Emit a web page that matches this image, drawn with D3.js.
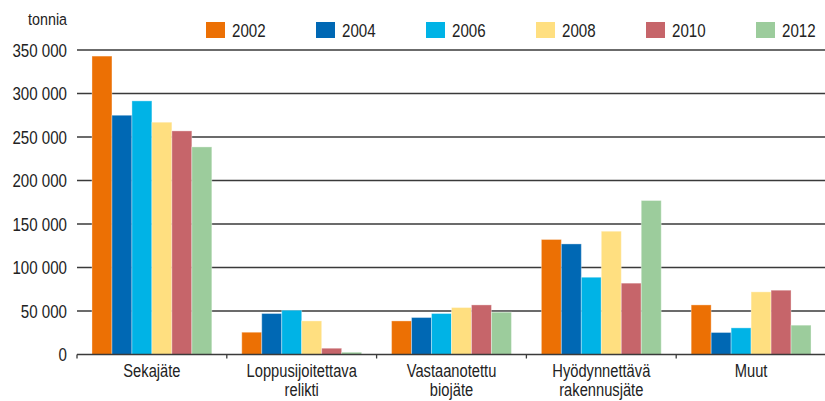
<!DOCTYPE html>
<html lang="fi">
  <head>
    <meta charset="utf-8" />
    <title>Jätteet</title>
    <script src="https://cdn.jsdelivr.net/npm/d3@7"></script>
    <style>
      body { margin: 0; background: #fff; }
      text { font-family: "Liberation Sans", Arial, sans-serif; fill: #222; }
    </style>
  </head>
  <body>
    <div id="chart"></div>
    <script>
      // data
      const categories = [
        ["Sekajäte"],
        ["Loppusijoitettava", "relikti"],
        ["Vastaanotettu", "biojäte"],
        ["Hyödynnettävä", "rakennusjäte"],
        ["Muut"]
      ];
      const years = ["2002", "2004", "2006", "2008", "2010", "2012"];
      const colors = ["#ec7004", "#0068b4", "#00b3e6", "#ffdf80", "#c6656a", "#9ccc9c"];
      const v2002 = [343000, 25600, 38600, 132200, 57000];
      const v2004 = [275000, 47100, 42500, 127100, 25300];
      const v2006 = [291500, 50900, 47100, 88800, 30600];
      const v2008 = [267000, 38600, 54000, 141700, 72000];
      const v2010 = [257000, 7200, 57000, 82000, 73900];
      const v2012 = [238600, 2600, 48600, 177000, 33700];
      const yTicks = [0, 50000, 100000, 150000, 200000, 250000, 300000, 350000];
      const unitLabel = "tonnia";

      const series = [v2002, v2004, v2006, v2008, v2010, v2012];
      const W = 825, H = 401;
      const plotL = 77, plotR = 826, plotT = 50, plotB = 354.5;
      const narrow = 0.84; // squeeze text to look like a condensed face

      const svg = d3.select("#chart").append("svg")
        .attr("width", W).attr("height", H);

      const x = d3.scaleBand()
        .domain(categories.map((c, i) => i))
        .range([plotL, plotR])
        .paddingInner(0.2)
        .paddingOuter(0.1);
      const xIn = d3.scaleBand()
        .domain(years)
        .range([0, x.bandwidth()]);
      const y = d3.scaleLinear().domain([0, 350000]).range([plotB, plotT]);

      const fmt = v => d3.format(",")(v).replace(/,/g, " ");
      const at = (px, py) => `translate(${px},${py}) scale(${narrow},1)`;

      // grid
      svg.append("g")
        .selectAll("line")
        .data(yTicks.filter(d => d > 0))
        .join("line")
        .attr("x1", plotL).attr("x2", W)
        .attr("y1", d => y(d)).attr("y2", d => y(d))
        .attr("stroke", "#3a3a3a").attr("stroke-width", 1.3);

      // y labels
      svg.append("g")
        .selectAll("text")
        .data(yTicks)
        .join("text")
        .attr("transform", d => at(67, y(d) + 6.5))
        .attr("text-anchor", "end")
        .style("font-size", "18px")
        .text(fmt);

      svg.append("text")
        .attr("transform", at(67, 25))
        .attr("text-anchor", "end")
        .style("font-size", "17px")
        .text(unitLabel);

      // bars
      const groups = svg.append("g")
        .selectAll("g")
        .data(categories)
        .join("g")
        .attr("transform", (d, i) => `translate(${x(i)},0)`);
      groups.selectAll("rect")
        .data((d, i) => series.map((s, j) => ({ year: years[j], v: s[i], c: colors[j] })))
        .join("rect")
        .attr("x", d => xIn(d.year))
        .attr("width", xIn.bandwidth())
        .attr("y", d => y(d.v))
        .attr("height", d => y(0) - y(d.v))
        .attr("fill", d => d.c)
        .attr("stroke", "#fff").attr("stroke-opacity", 0.35).attr("stroke-width", 1);

      // baseline and ticks
      const step = x.step();
      svg.append("line")
        .attr("x1", plotL).attr("x2", W)
        .attr("y1", plotB).attr("y2", plotB)
        .attr("stroke", "#3a3a3a").attr("stroke-width", 1.3);
      svg.append("g")
        .selectAll("line")
        .data(d3.range(categories.length))
        .join("line")
        .attr("x1", i => plotL + i * step).attr("x2", i => plotL + i * step)
        .attr("y1", plotB).attr("y2", plotB + 4)
        .attr("stroke", "#3a3a3a").attr("stroke-width", 1.3);

      // category labels, one text per line
      const lines = categories.flatMap((c, i) => c.map((s, k) => ({ s, i, k })));
      svg.append("g")
        .selectAll("text")
        .data(lines)
        .join("text")
        .attr("text-anchor", "middle")
        .style("font-size", "17.5px")
        .attr("transform", d => at(x(d.i) + x.bandwidth() / 2, 377 + d.k * 18.5))
        .text(d => d.s);

      // legend
      const lg = svg.append("g")
        .selectAll("g")
        .data(years)
        .join("g")
        .attr("transform", (d, i) => `translate(${206 + i * 110},22)`);
      lg.append("rect")
        .attr("width", 19).attr("height", 16)
        .attr("fill", (d, i) => colors[i]);
      lg.append("text")
        .attr("transform", at(26, 14.5))
        .style("font-size", "18px")
        .text(d => d);
    </script>
  </body>
</html>
